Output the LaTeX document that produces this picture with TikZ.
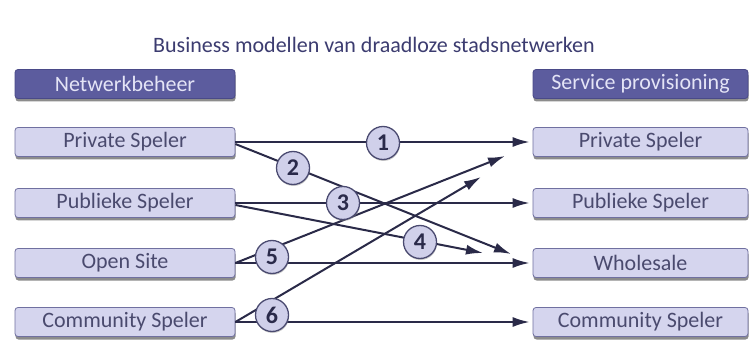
\documentclass[tikz,border=0pt]{standalone}
\usepackage{fontspec}
\setmainfont{Carlito}
\usetikzlibrary{shadows,arrows.meta}
\definecolor{boxfill}{HTML}{D5D5EE}
\definecolor{boxline}{HTML}{7070A0}
\definecolor{boxtext}{HTML}{4A4A6E}
\definecolor{hdrfill}{HTML}{5C5C9E}
\definecolor{hdrline}{HTML}{4A4A88}
\definecolor{hdrtext}{HTML}{E4E4F6}
\definecolor{titlec}{HTML}{3C3C70}
\definecolor{numfill}{HTML}{D0D0EA}
\definecolor{numline}{HTML}{4A4A70}
\definecolor{numtext}{HTML}{2A2A4A}
\definecolor{linec}{HTML}{2A2A48}
\begin{document}
\begin{tikzpicture}[x=1pt,y=-1pt,
  box/.style={draw=boxline, line width=0.8pt, fill=boxfill, rounded corners=3pt,
    minimum width=220pt, minimum height=29pt, inner sep=0pt, text=boxtext,
    font=\fontsize{22}{22}\selectfont,
    drop shadow={shadow xshift=0.5pt, shadow yshift=-3pt, fill=black!75, opacity=0.6}},
  rbox/.style={box, minimum width=215pt},
  hdr/.style={fill=hdrfill, draw=hdrline, text=hdrtext},
  num/.style={circle, draw=numline, line width=1.3pt, fill=numfill, minimum size=33pt,
    inner sep=0pt, text=numtext, font=\fontsize{24}{24}\selectfont\bfseries,
    drop shadow={shadow xshift=0.5pt, shadow yshift=-1.5pt, fill=black!50, opacity=0.4}},
  conn/.style={draw=linec, line width=2pt, -{Latex[length=17pt,width=10pt]}},
  ]
\useasboundingbox[fill=white] (0,0) rectangle (749,347);

\node[text=titlec, font=\fontsize{22}{22}\selectfont] (title) at (374,45)
  {Business modellen van draadloze stadsnetwerken};

\node[box, hdr] (hL) at (125,84) {Netwerkbeheer};
\node[rbox, hdr] (hR) at (640.5,84) {Service provisioning};

\node[box] (pL) at (125,142) {Private Speler};
\node[box] (bL) at (125,203) {Publieke Speler};
\node[box] (oL) at (125,263) {Open Site};
\node[box] (cL) at (125,322) {Community Speler};

\node[rbox] (pR) at (640.5,142) {Private Speler};
\node[rbox] (bR) at (640.5,203) {Publieke Speler};
\node[rbox] (wR) at (640.5,263) {Wholesale};
\node[rbox] (cR) at (640.5,322) {Community Speler};

\coordinate (e2) at (511,254);
\coordinate (e4) at (483,253);
\coordinate (e5) at (505,156);
\coordinate (e6) at (481,177);

\path[conn, shorten >=3pt] (pL.east) -- (pR.west);
\path[conn] ([yshift=-2pt]pL.east) -- (e2);
\path[conn, shorten >=3pt] (bL.east) -- (bR.west);
\path[conn] ([yshift=-2pt]bL.east) -- (e4);
\path[conn, shorten >=3pt] (oL.east) -- (wR.west);
\path[conn] (oL.east) -- (e5);
\path[conn, shorten >=3pt] (cL.east) -- (cR.west);
\path[conn] (cL.east) -- (e6);

\node[num] (n1) at (383,143) {1};
\node[num] (n2) at (293,168) {2};
\node[num] (n3) at (343,203) {3};
\node[num] (n4) at (420,242) {4};
\node[num] (n5) at (272,257) {5};
\node[num] (n6) at (272,315) {6};
\end{tikzpicture}
\end{document}
